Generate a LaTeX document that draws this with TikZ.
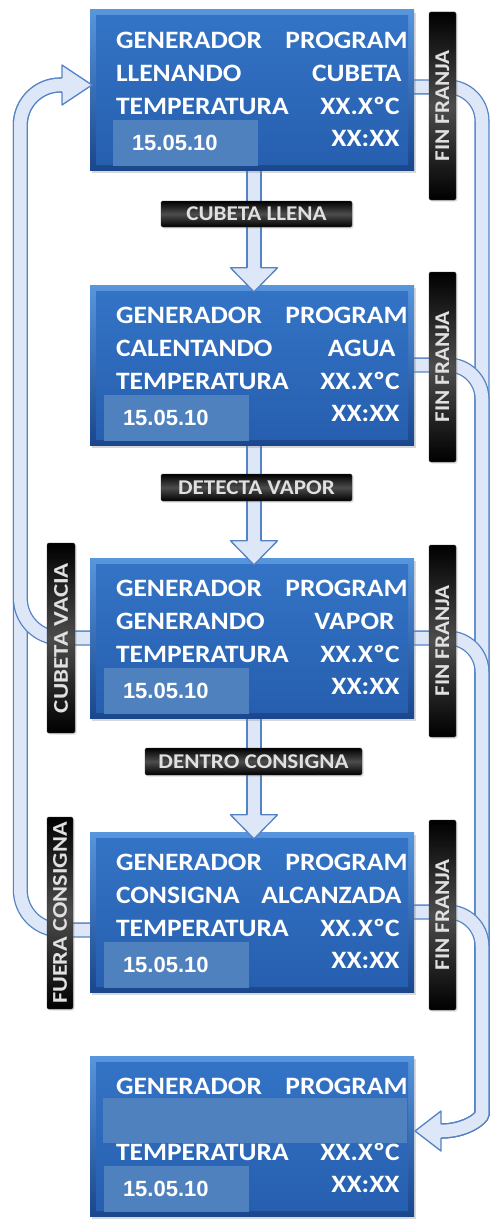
\documentclass[tikz,border=0pt]{standalone}
\usepackage{fontspec}
\usepackage{graphicx}
\usetikzlibrary{calc,shadows}
\newfontfamily\panelfont[FakeStretch=1.1]{Carlito}
\newfontfamily\datefont{Liberation Sans}

\definecolor{panelTop}{RGB}{88,150,222}
\definecolor{panelBot}{RGB}{26,70,140}
\definecolor{faceTop}{RGB}{52,116,198}
\definecolor{faceBot}{RGB}{38,94,174}
\definecolor{dateBlue}{RGB}{79,129,190}
\definecolor{arrowFill}{RGB}{221,231,248}
\definecolor{arrowLine}{RGB}{84,131,196}
\definecolor{tagText}{RGB}{224,224,224}

\pgfdeclarelayer{bg}
\pgfdeclarelayer{back}
\pgfsetlayers{bg,back,main}

% one display screen: name, centre y, second row (left, right),
% x of the second-row right edge, x of the date field (both from the west side)
\newcommand\screenpanel[6]{%
  \node[panel] (#1) at (252,#2) {};
  \node[ptxt,anchor=base west] (#1-a) at ($(#1.north west)+(26pt,-39pt)$) {GENERADOR};
  \node[ptxt,anchor=base east] (#1-b) at ($(#1.north west)+(318pt,-39pt)$) {PROGRAM};
  \node[ptxt,anchor=base west] (#1-c) at ($(#1.north west)+(26pt,-72pt)$) {#3};
  \node[ptxt,anchor=base east] (#1-d) at ($(#1.north west)+(#5pt,-72pt)$) {#4};
  \node[ptxt,anchor=base west] (#1-e) at ($(#1.north west)+(26pt,-105pt)$) {TEMPERATURA};
  \node[ptxt,anchor=base east] (#1-f) at ($(#1.north west)+(310pt,-105pt)$) {XX.XºC};
  \node[datefield,anchor=north west] (#1-g) at ($(#1.north west)+(#6pt,-110pt)$) {};
  \node[datetxt,anchor=base west] (#1-h) at ($(#1-g.north west)+(19pt,-31pt)$) {15.05.10};
  \node[ptxt,anchor=base east] (#1-i) at ($(#1.north west)+(310pt,-137pt)$) {XX:XX};
}

\tikzset{
  panel/.style={minimum width=324pt, minimum height=160pt, inner sep=0pt,
    top color=panelTop, bottom color=panelBot,
    drop shadow={opacity=0.3, shadow xshift=2pt, shadow yshift=-3pt},
    path picture={\fill[top color=faceTop, bottom color=faceBot]
      ([shift={(6pt,-6pt)}]path picture bounding box.north west) rectangle
      ([shift={(-6pt,6pt)}]path picture bounding box.south east);}},
  ptxt/.style={text=white, inner sep=0pt, font=\panelfont\bfseries\fontsize{25}{25}\selectfont},
  datefield/.style={fill=dateBlue, minimum width=145pt, minimum height=46pt, inner sep=0pt},
  datetxt/.style={text=white, inner sep=0pt, font=\datefont\bfseries\fontsize{22}{22}\selectfont},
  band/.style={fill=dateBlue, minimum width=304pt, minimum height=45pt, inner sep=0pt},
  tag/.style={top color=black, bottom color=black, middle color=black!70,
    draw=black!80, line width=0.4pt, rounded corners=1.5pt, inner sep=0pt,
    text=tagText, font=\panelfont\bfseries\fontsize{21}{21}\selectfont,
    drop shadow={opacity=0.25, shadow xshift=1.5pt, shadow yshift=-1.5pt}},
  fat/.style={draw=arrowLine, line width=1.3pt, double=arrowFill, double distance=12.5pt},
  headstyle/.style={fill=arrowFill, draw=arrowLine, line width=1.3pt, line join=round},
  pics/fathead/.style 2 args={code={%
    \path[headstyle] (-6.9pt,0pt) -- (-#1pt,0pt) -- (0pt,-#2pt) -- (#1pt,0pt) -- (6.9pt,0pt);}}
}

\begin{document}
\begin{tikzpicture}[x=1pt,y=-1pt]
\begin{pgfonlayer}{bg}
  \path[fill=white, use as bounding box] (0,0) rectangle (492,1220);
\end{pgfonlayer}

% the five screens
\screenpanel{b1}{90}{LLENANDO}{CUBETA}{312}{23}
\screenpanel{b2}{365}{CALENTANDO}{AGUA}{306}{14}
\screenpanel{b3}{638}{GENERANDO}{VAPOR}{305}{14}
\screenpanel{b4}{912}{CONSIGNA}{ALCANZADA}{312}{14}
\screenpanel{b5}{1136}{}{}{312}{14}
\node[band, anchor=north west] (b5-band) at ($(b5.north west)+(13pt,-42pt)$) {};

% rail end points
\coordinate (ltip) at (62,85);
\coordinate (rbend) at (482,1080);
\coordinate (rhead) at (441,1131);

\begin{pgfonlayer}{back}
  % forward steps between screens
  \draw[fat] ($(b1.south)+(2pt,0pt)$) -- ($(b2.north)+(2pt,17pt)$) coordinate (h12);
  \draw[fat] ($(b2.south)+(2pt,0pt)$) -- ($(b3.north)+(2pt,17pt)$) coordinate (h23);
  \draw[fat] ($(b3.south)+(2pt,0pt)$) -- ($(b4.north)+(2pt,17pt)$) coordinate (h34);
  % return rail on the left
  \draw[fat, rounded corners=40pt] ($(b4.west)+(0pt,-18pt)$) -- ++(-69.5pt,0pt) |- (ltip);
  \draw[fat, rounded corners=40pt] (b3.west) -- ++(-69.5pt,0pt) |- (ltip);
  % rail on the right down to the last screen
  \draw[fat, rounded corners=34pt] ($(b1.east)+(0pt,3pt)$) -| (rbend)
    .. controls +(0pt,-38pt) and +(25pt,0pt) .. (rhead);
  \draw[fat, rounded corners=34pt] (b2.east) -| (rbend)
    .. controls +(0pt,-38pt) and +(25pt,0pt) .. (rhead);
  \draw[fat, rounded corners=34pt] (b3.east) -| (rbend)
    .. controls +(0pt,-38pt) and +(25pt,0pt) .. (rhead);
  \draw[fat, rounded corners=34pt] (b4.east) -| (rbend)
    .. controls +(0pt,-38pt) and +(25pt,0pt) .. (rhead);
\end{pgfonlayer}

% arrow heads
\pic at (h12) {fathead={23.5}{24}};
\pic at (h23) {fathead={23.5}{24}};
\pic at (h34) {fathead={23.5}{24}};
\pic[rotate=90] at (ltip) {fathead={20}{30}};
\pic[rotate=-90] at (rhead) {fathead={20}{26}};

% event tags
\node[tag, minimum width=191pt, minimum height=26pt] (t12) at (256.5,214) {CUBETA LLENA};
\node[tag, minimum width=191pt, minimum height=27pt] (t23) at (256.5,487.5) {DETECTA VAPOR};
\node[tag, minimum width=217pt, minimum height=27pt] (t34) at (253.5,761.5) {DENTRO CONSIGNA};
\node[tag, rotate=90, minimum width=188pt, minimum height=27pt] (f1) at (442.5,106) {FIN FRANJA};
\node[tag, rotate=90, minimum width=190pt, minimum height=27pt] (f2) at (442.5,367) {FIN FRANJA};
\node[tag, rotate=90, minimum width=192pt, minimum height=27pt] (f3) at (442.5,641) {FIN FRANJA};
\node[tag, rotate=90, minimum width=190pt, minimum height=27pt] (f4) at (442.5,915) {FIN FRANJA};
\node[tag, rotate=90, minimum width=190pt, minimum height=28pt] (cv) at (61,638) {\scalebox{1.08}[1]{CUBETA VACIA}};
\node[tag, rotate=90, minimum width=192pt, minimum height=26pt] (fc) at (60,913) {\scalebox{1.05}[1]{FUERA CONSIGNA}};
\end{tikzpicture}
\end{document}
